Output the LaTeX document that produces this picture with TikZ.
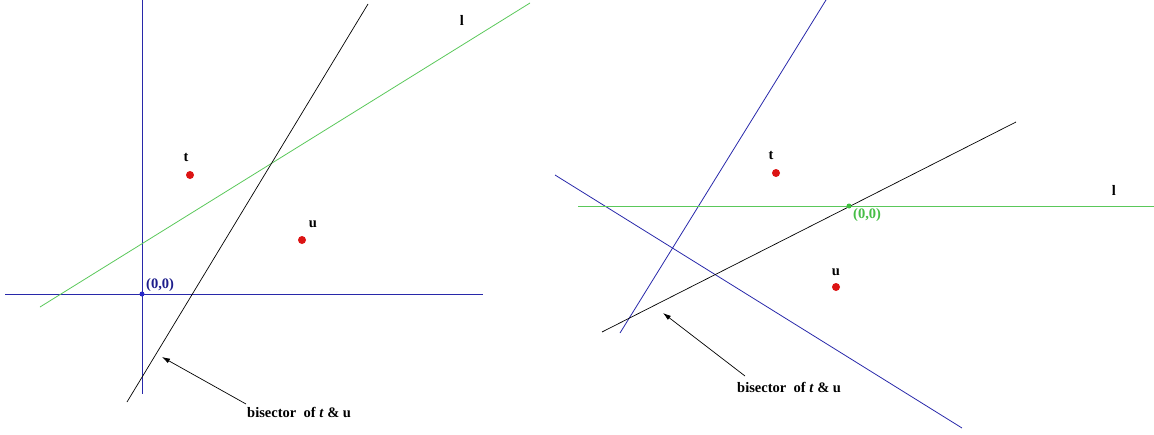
\documentclass[tikz,border=0pt]{standalone}
\usepackage{fontspec}
\setmainfont{Liberation Serif}
\usetikzlibrary{arrows.meta}
\begin{document}
\begin{tikzpicture}[x=1pt,y=-1pt,
  blueline/.style={draw={rgb,255:red,40;green,40;blue,170},line width=0.8pt},
  greenline/.style={draw={rgb,255:red,90;green,200;blue,90},line width=0.8pt},
  blackline/.style={draw=black,line width=0.7pt},
  reddot/.style={circle,fill={rgb,255:red,220;green,20;blue,20},inner sep=0pt,minimum size=8pt},
  lbl/.style={font=\bfseries\fontsize{14.5}{16}\selectfont,inner sep=0pt},
  arr/.style={draw=black,line width=0.7pt,-{Latex[length=8pt,width=5pt]}}]
\useasboundingbox (0,0) rectangle (1154,434);
% ---------- left panel ----------
\coordinate (lvt) at (142,0);
\coordinate (lvb) at (142,394);
\coordinate (lhl) at (5,294);
\coordinate (lhr) at (483,294);
\coordinate (lgl) at (40,307);
\coordinate (lgr) at (530,3);
\coordinate (lbb) at (127,402);
\coordinate (lbt) at (368,4);
\draw[blueline] (lvt) -- (lvb);
\draw[blueline] (lhl) -- (lhr);
\draw[greenline] (lgl) -- (lgr);
\draw[blackline] (lbb) -- (lbt);
\node[circle,fill={rgb,255:red,40;green,40;blue,200},inner sep=0pt,minimum size=5pt] (lo) at (142,294) {};
\node[lbl,text={rgb,255:red,30;green,30;blue,140},anchor=west] (lol) at (146,285) {(0,0)};
\node[reddot] (lt) at (190,175) {};
\node[lbl] (ltl) at (186,157) {t};
\node[reddot] (lu) at (302,240) {};
\node[lbl] (lul) at (313,224) {u};
\node[lbl] (ll) at (462,20) {l};
\node[lbl,anchor=west] (lbis) at (247,412) {bisector\ \ of \textit{t} \& u};
\coordinate (las) at (246,404);
\coordinate (latip) at (162,357);
\draw[arr] (las) -- (latip);
% ---------- right panel ----------
\coordinate (rb1b) at (620,333);
\coordinate (rb1t) at (826,0);
\coordinate (rb2a) at (555,175);
\coordinate (rb2b) at (962,428);
\coordinate (rkb) at (602,332);
\coordinate (rkt) at (1016,122);
\coordinate (rgl) at (578,206);
\coordinate (rgr) at (1154,206);
\draw[blueline] (rb1b) -- (rb1t);
\draw[blueline] (rb2a) -- (rb2b);
\draw[greenline] (rgl) -- (rgr);
\draw[blackline] (rkb) -- (rkt);
\node[circle,fill={rgb,255:red,60;green,190;blue,60},inner sep=0pt,minimum size=5pt] (ro) at (849,206) {};
\node[lbl,text={rgb,255:red,70;green,190;blue,70},anchor=west] (rol) at (853,215) {(0,0)};
\node[reddot] (rt) at (776,173) {};
\node[lbl] (rtl) at (771,155) {t};
\node[reddot] (ru) at (836,287) {};
\node[lbl] (rul) at (836,272) {u};
\node[lbl] (rl) at (1114,190) {l};
\node[lbl,anchor=west] (rbis) at (737,387) {bisector\ \ of \textit{t} \& u};
\coordinate (ras) at (745,376);
\coordinate (ratip) at (663,313);
\draw[arr] (ras) -- (ratip);
\end{tikzpicture}
\end{document}
